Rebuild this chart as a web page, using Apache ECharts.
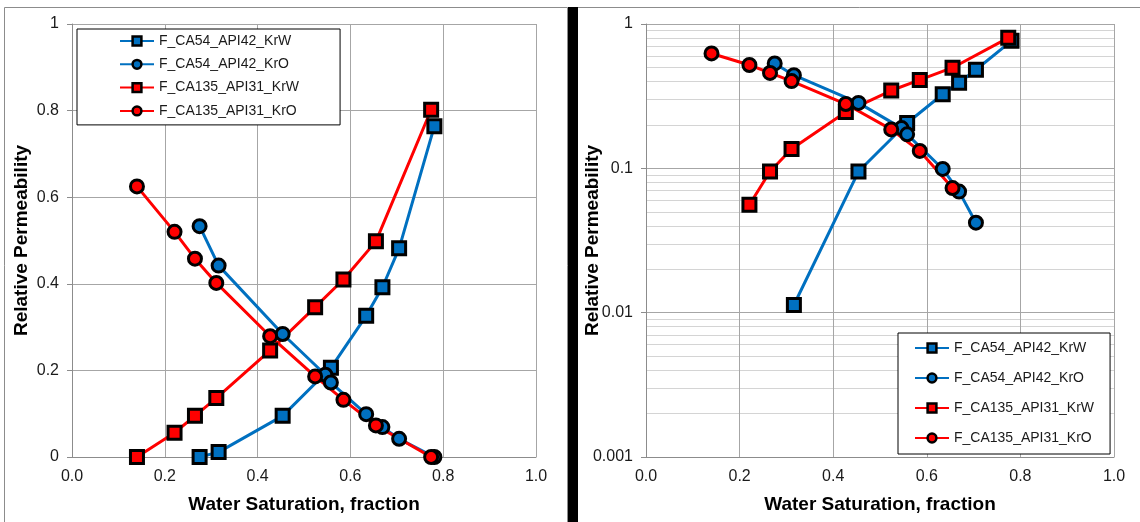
<!DOCTYPE html>
<html>
<head>
<meta charset="utf-8">
<script src="https://cdn.jsdelivr.net/npm/echarts@6/dist/echarts.min.js"></script>
<style>
html,body{margin:0;padding:0;background:#fff;}
#c{width:1140px;height:522px;}
</style>
</head>
<body>
<div id="c"></div>
<script>
// ---- data ----
const seriesNames = ['F_CA54_API42_KrW', 'F_CA54_API42_KrO', 'F_CA135_API31_KrW', 'F_CA135_API31_KrO'];
const swBlueKrW = [0.275, 0.316, 0.454, 0.558, 0.634, 0.669, 0.705, 0.781];
const krBlueKrW = [0, 0.0113, 0.095, 0.206, 0.326, 0.392, 0.482, 0.764];
const swBlueKrO = [0.275, 0.316, 0.454, 0.546, 0.558, 0.634, 0.669, 0.705, 0.781];
const krBlueKrO = [0.533, 0.442, 0.284, 0.19, 0.172, 0.099, 0.069, 0.042, 0];
const swRed = [0.14, 0.221, 0.265, 0.311, 0.427, 0.524, 0.585, 0.655, 0.774];
const krRedKrW = [0, 0.056, 0.095, 0.136, 0.246, 0.346, 0.41, 0.498, 0.802];
const krRedKrO = [0.625, 0.52, 0.458, 0.402, 0.279, 0.186, 0.132, 0.073, 0];
const xTicks = [0, 0.2, 0.4, 0.6, 0.8, 1.0];
const yTicksLin = [0, 0.2, 0.4, 0.6, 0.8, 1];
const yTicksLog = [0.001, 0.01, 0.1, 1];
const xTitle = 'Water Saturation, fraction';
const yTitle = 'Relative Permeability';

const BLUE = '#0070C0', RED = '#FF0000';
const FONT = '"Liberation Sans", Arial, sans-serif';

function pairs(xs, ys, logOnly) {
  const out = xs.map((x, i) => [x, ys[i]]);
  return logOnly ? out.filter(p => p[1] > 0) : out;
}

const defs = [
  {name: seriesNames[0], xs: swBlueKrW, ys: krBlueKrW, color: BLUE, symbol: 'rect'},
  {name: seriesNames[1], xs: swBlueKrO, ys: krBlueKrO, color: BLUE, symbol: 'circle'},
  {name: seriesNames[2], xs: swRed, ys: krRedKrW, color: RED, symbol: 'rect'},
  {name: seriesNames[3], xs: swRed, ys: krRedKrO, color: RED, symbol: 'circle'}
];

function makeSeries(gi) {
  return defs.map(d => ({
    name: d.name,
    type: 'line',
    xAxisIndex: gi, yAxisIndex: gi,
    data: pairs(d.xs, d.ys, gi === 1),
    symbol: d.symbol,
    symbolSize: 13,
    showAllSymbol: true,
    lineStyle: {color: d.color, width: 3},
    itemStyle: {color: d.color, borderColor: '#000', borderWidth: 3},
    emphasis: {disabled: true},
    animation: false
  }));
}

const axisLabelStyle = {color: '#1a1a1a', fontFamily: FONT, fontSize: 16};
const titleStyle = {color: '#000', fontFamily: FONT, fontSize: 19, fontWeight: 'bold'};

function xAxis(gi) {
  return {
    type: 'value', gridIndex: gi, min: xTicks[0], max: xTicks[xTicks.length - 1], interval: 0.2,
    name: xTitle, nameLocation: 'middle', nameGap: 38, nameTextStyle: titleStyle, nameMoveOverlap: false,
    axisLine: {show: true, lineStyle: {color: '#8c8c8c', width: 1}},
    axisTick: {show: false},
    axisLabel: Object.assign({margin: 12, formatter: v => v.toFixed(1)}, axisLabelStyle),
    splitLine: {show: true, lineStyle: {color: '#a6a6a6', width: 1}}
  };
}

const option = {
  animation: false,
  backgroundColor: '#fff',
  grid: [
    {left: 72, right: 1140 - 536, top: 24, bottom: 522 - 457, containLabel: false},
    {left: 646, right: 1140 - 1114, top: 24, bottom: 522 - 457, containLabel: false}
  ],
  xAxis: [xAxis(0), xAxis(1)],
  yAxis: [
    {
      type: 'value', gridIndex: 0, min: yTicksLin[0], max: yTicksLin[yTicksLin.length - 1], interval: 0.2,
      name: yTitle, nameLocation: 'middle', nameGap: 41, nameTextStyle: titleStyle, nameMoveOverlap: false,
      axisLine: {show: true, lineStyle: {color: '#8c8c8c', width: 1}},
      axisTick: {show: true, length: 5, lineStyle: {color: '#8c8c8c'}},
      axisLabel: Object.assign({margin: 13, formatter: v => (v === 0 ? '0' : v === 1 ? '1' : v.toFixed(1))}, axisLabelStyle),
      splitLine: {show: true, lineStyle: {color: '#a6a6a6', width: 1}}
    },
    {
      type: 'log', logBase: 10, gridIndex: 1, min: yTicksLog[0], max: yTicksLog[yTicksLog.length - 1],
      name: yTitle, nameLocation: 'middle', nameGap: 44, nameTextStyle: titleStyle, nameMoveOverlap: false,
      axisLine: {show: true, lineStyle: {color: '#8c8c8c', width: 1}},
      axisTick: {show: true, length: 5, lineStyle: {color: '#8c8c8c'}},
      axisLabel: Object.assign({margin: 13, formatter: v => String(Number(Number(v).toPrecision(1)))}, axisLabelStyle),
      splitLine: {show: true, lineStyle: {color: '#a6a6a6', width: 1}},
      minorTick: {show: false, splitNumber: 9},
      minorSplitLine: {show: true, lineStyle: {color: '#d4d4d4', width: 1}}
    }
  ],
  legend: [
    {
      data: seriesNames, orient: 'vertical', left: 77, top: 29,
      padding: [4, 41, 6, 42], itemGap: 7.3, itemWidth: 34, itemHeight: 11,
      borderColor: '#000', borderWidth: 1, backgroundColor: '#fff',
      textStyle: {fontFamily: FONT, fontSize: 14, color: '#1a1a1a', lineHeight: 16},
      itemStyle: {borderWidth: 2.5}, selectedMode: false
    },
    {
      data: seriesNames, orient: 'vertical', left: 898, top: 333,
      padding: [7, 16, 8, 16], itemGap: 14, itemWidth: 34, itemHeight: 11,
      borderColor: '#000', borderWidth: 1, backgroundColor: '#fff',
      textStyle: {fontFamily: FONT, fontSize: 14, color: '#1a1a1a', lineHeight: 16},
      itemStyle: {borderWidth: 2.5}, selectedMode: false
    }
  ],
  graphic: [
    {type: 'rect', shape: {x: 4.5, y: 7.5, width: 563, height: 530}, style: {fill: 'none', stroke: '#8c8c8c', lineWidth: 1}, z: -10, silent: true},
    {type: 'rect', shape: {x: 577.5, y: 7.5, width: 600, height: 530}, style: {fill: 'none', stroke: '#8c8c8c', lineWidth: 1}, z: -10, silent: true},
    {type: 'rect', shape: {x: 568, y: 7, width: 10, height: 520}, style: {fill: '#000'}, z: 100, silent: true}
  ],
  series: makeSeries(0).concat(makeSeries(1))
};

const chart = echarts.init(document.getElementById('c'), null, {renderer: 'canvas'});
chart.setOption(option);
</script>
</body>
</html>
